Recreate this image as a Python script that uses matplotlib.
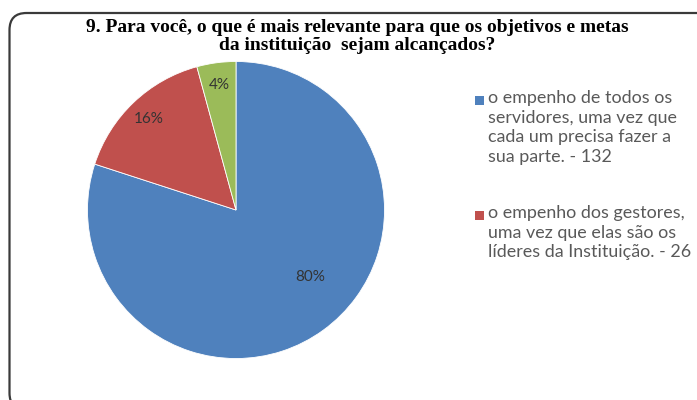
import matplotlib.pyplot as plt
import numpy as np
from matplotlib.patches import FancyBboxPatch, Rectangle

# Respostas da questão 9
labels = ['o empenho de todos os\nservidores, uma vez que\ncada um precisa fazer a\nsua parte. - 132',
          'o empenho dos gestores,\numa vez que elas são os\nlíderes da Instituição. - 26',
          'outros']
counts = [132, 26, 7]
colors = ['#4F81BD', '#C0504D', '#9BBB59']

title = '9. Para você, o que é mais relevante para que os objetivos e metas\nda instituição  sejam alcançados?'

W, H = 697, 400
fig = plt.figure(figsize=(W / 100, H / 100), dpi=100)

# moldura arredondada do gráfico (em polegadas)
frame = FancyBboxPatch((0.095, -0.1), 7.2, 3.87 + 0.1,
                       boxstyle='round,pad=0,rounding_size=0.17',
                       transform=fig.dpi_scale_trans, facecolor='white',
                       edgecolor='#3a3a3a', linewidth=1.6, zorder=-1)
fig.patches.append(frame)

fig.text(0.513, 1 - 19 / H, title, ha='center', va='top', fontsize=14,
         fontweight='bold', family='Liberation Serif', linespacing=1.04)

ax = fig.add_axes([86 / W, 40 / H, 300 / W, 300 / H])
wedges, texts, autotexts = ax.pie(
    counts, colors=colors, startangle=90, counterclock=False,
    autopct='%1.0f%%', pctdistance=0.85,
    wedgeprops=dict(edgecolor='white', linewidth=0.6),
    textprops=dict(fontsize=11, color='#333333', family='Lato'))
ax.set_xlim(-1.01, 1.01)
ax.set_ylim(-1.01, 1.01)

# rótulo da fatia maior fica mais perto do centro
ang = np.deg2rad(-42)
autotexts[0].set_position((0.67 * np.cos(ang), 0.67 * np.sin(ang)))

# legenda: quadrado alinhado à primeira linha de cada item
ys = [90, 205]
for lab, col, y in zip(labels[:2], colors[:2], ys):
    fig.text(488 / W, 1 - y / H, lab, ha='left', va='top', color='#595959',
             family='Lato', fontsize=12.9, linespacing=1.28)
    fig.patches.append(Rectangle((475 / W, 1 - (y + 15) / H), 9 / W, 9 / H,
                                 transform=fig.transFigure, facecolor=col,
                                 edgecolor='none'))

fig.savefig('out.png', dpi=100)
